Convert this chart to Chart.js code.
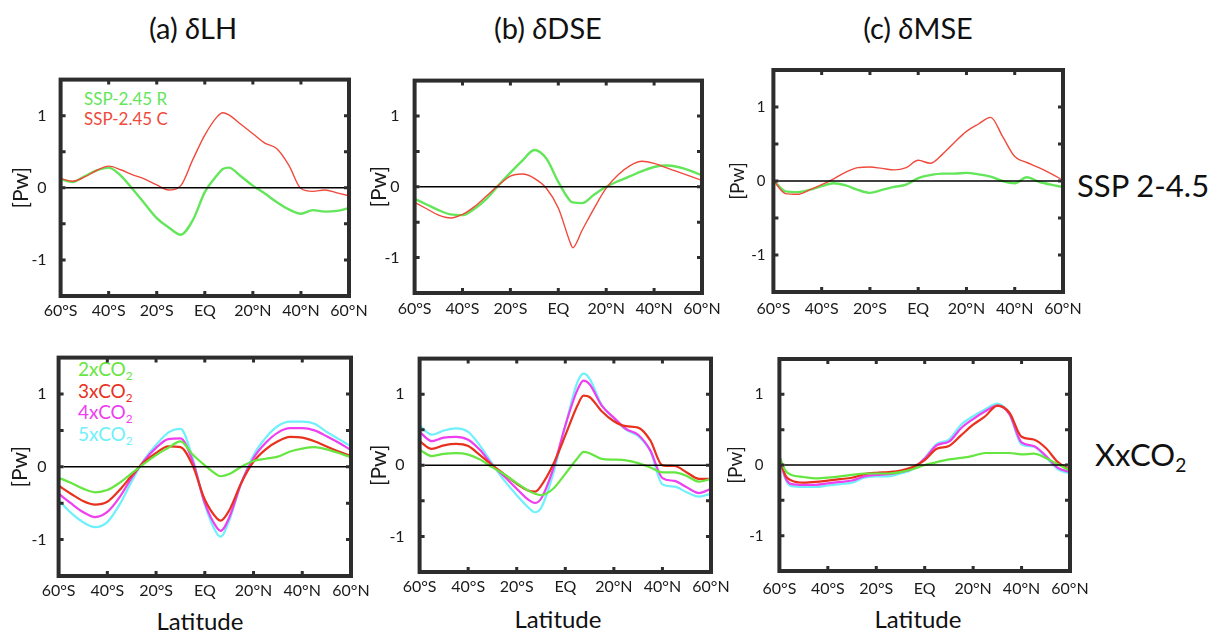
<!DOCTYPE html>
<html lang="en">
<head>
<meta charset="UTF-8" />
<title>Heat transport anomalies</title>
<script src="https://cdn.jsdelivr.net/npm/chart.js"></script>
<style>
  body { margin: 0; background: #fff; font-family: Lato, 'Open Sans', sans-serif; color: #111; }
  #wrap { position: relative; width: 1217px; height: 633px; overflow: hidden; }
  canvas { position: absolute; }
  .lbl { position: absolute; white-space: nowrap; line-height: 1; }
  .title { font-size: 29px; transform: translateX(-50%); }
  .xname { font-size: 24px; transform: translateX(-50%); }
  .row { font-size: 31px; }
  sub { font-size: 62%; vertical-align: -0.3em; line-height: 0; }
</style>
</head>
<body>
<div id="wrap">
  <div class="lbl title" style="left:193px; top:13px">(a) <i>δ</i>LH</div>
  <div class="lbl title" style="left:548px; top:13px">(b) <i>δ</i>DSE</div>
  <div class="lbl title" style="left:918px; top:13px">(c) <i>δ</i>MSE</div>

  <div class="lbl" style="left:84px; top:89px; font-size:17px; line-height:20px">
    <span style="color:#63e65a">SSP-2.45 R</span><br><span style="color:#f04a3c">SSP-2.45 C</span>
  </div>
  <div class="lbl" style="left:78px; top:358px; font-size:19px; line-height:21.7px">
    <span style="color:#66e640">2xCO<sub>2</sub></span><br>
    <span style="color:#e8321e">3xCO<sub>2</sub></span><br>
    <span style="color:#ee3ff0">4xCO<sub>2</sub></span><br>
    <span style="color:#6ff0fa">5xCO<sub>2</sub></span>
  </div>

  <div class="lbl row" style="left:1077px; top:170px">SSP 2-4.5</div>
  <div class="lbl row" style="left:1095px; top:439px">XxCO<sub>2</sub></div>

  <div class="lbl xname" style="left:200px; top:609px">Latitude</div>
  <div class="lbl xname" style="left:558px; top:607px">Latitude</div>
  <div class="lbl xname" style="left:918px; top:607px">Latitude</div>
</div>

<script>
// axis ticks
const xTickValues = [-60, -40, -20, 0, 20, 40, 60];
const xTickLabels = ['60°S', '40°S', '20°S', 'EQ', '20°N', '40°N', '60°N'];
const yTickValues = [-1, -0.5, 0, 0.5, 1];
const zeroLat = [-58, 59];
const zeroVal = [0, 0];

// (a) LH, SSP 2-4.5
const latLhSsp = [-60,-55,-50,-45,-40,-35,-30,-25,-20,-15,-10,-5,0,5,7.5,10,15,20,25,30,35,40,45,50,55,60];
const lhSspR = [0.12,0.08,0.16,0.24,0.28,0.17,-0.02,-0.22,-0.42,-0.55,-0.65,-0.45,-0.06,0.17,0.26,0.28,0.16,0.03,-0.08,-0.20,-0.30,-0.36,-0.31,-0.33,-0.32,-0.28];
const lhSspC = [0.13,0.09,0.15,0.24,0.30,0.25,0.18,0.12,0.04,-0.03,0.03,0.39,0.73,0.98,1.04,1.01,0.88,0.75,0.62,0.54,0.31,-0.01,-0.05,-0.03,-0.07,-0.11];

// (b) DSE, SSP 2-4.5
const latDseSsp = [-60,-55,-50,-45,-40,-35,-30,-25,-20,-15,-10,-5,0,5,6,10,15,20,25,30,35,40,45,50,55,60];
const dseSspR = [-0.17,-0.25,-0.33,-0.39,-0.40,-0.31,-0.17,0.02,0.20,0.37,0.52,0.40,0.07,-0.20,-0.22,-0.23,-0.11,0.0,0.08,0.15,0.22,0.28,0.30,0.28,0.23,0.16];
const dseSspC = [-0.22,-0.31,-0.40,-0.44,-0.39,-0.28,-0.13,0.02,0.15,0.18,0.12,-0.02,-0.30,-0.79,-0.86,-0.61,-0.30,-0.02,0.17,0.30,0.36,0.33,0.27,0.21,0.15,0.09];

// (c) MSE, SSP 2-4.5
const latMseSsp = [-60,-55,-50,-45,-40,-35,-30,-25,-20,-15,-10,-5,0,5,10,15,20,25,30,35,40,45,50,55,60];
const mseSspR = [0.01,-0.14,-0.15,-0.12,-0.07,-0.03,-0.06,-0.12,-0.16,-0.12,-0.08,-0.05,0.04,0.08,0.10,0.10,0.11,0.09,0.06,0.0,-0.03,0.05,-0.01,-0.05,-0.08];
const mseSspC = [0.01,-0.17,-0.18,-0.12,-0.05,0.03,0.12,0.18,0.19,0.17,0.15,0.18,0.28,0.24,0.36,0.52,0.67,0.77,0.86,0.60,0.33,0.25,0.18,0.10,0.01];

// (a) LH, XxCO2
const latLhCo2 = [-60,-55,-50,-45,-40,-35,-30,-25,-20,-15,-10,-5,0,5,6.5,10,15,20,25,30,35,40,45,50,55,60];
const lhCo2x2 = [-0.15,-0.22,-0.30,-0.35,-0.32,-0.22,-0.09,0.04,0.16,0.26,0.35,0.17,0.02,-0.11,-0.13,-0.10,0.0,0.08,0.11,0.14,0.21,0.25,0.27,0.24,0.19,0.13];
const lhCo2x3 = [-0.26,-0.37,-0.47,-0.52,-0.48,-0.32,-0.12,0.06,0.19,0.28,0.27,0.02,-0.45,-0.71,-0.74,-0.60,-0.22,0.07,0.24,0.35,0.41,0.40,0.35,0.28,0.21,0.15];
const lhCo2x4 = [-0.37,-0.50,-0.62,-0.69,-0.62,-0.42,-0.15,0.08,0.26,0.38,0.39,0.08,-0.50,-0.84,-0.88,-0.70,-0.22,0.12,0.33,0.47,0.53,0.53,0.50,0.42,0.33,0.23];
const lhCo2x5 = [-0.46,-0.63,-0.76,-0.83,-0.76,-0.52,-0.20,0.09,0.30,0.47,0.52,0.12,-0.52,-0.92,-0.96,-0.74,-0.22,0.16,0.40,0.56,0.62,0.62,0.59,0.48,0.38,0.28];

// (b) DSE, XxCO2
const latDseCo2 = [-60,-55,-50,-45,-40,-35,-30,-25,-20,-15,-12.5,-10,-5,0,5,7.5,10,15,20,25,30,35,40,45,50,55,60];
const dseCo2x2 = [0.22,0.13,0.16,0.17,0.15,0.08,-0.03,-0.13,-0.25,-0.36,-0.40,-0.42,-0.33,-0.12,0.10,0.19,0.17,0.09,0.08,0.07,0.03,-0.03,-0.10,-0.10,-0.15,-0.23,-0.19];
const dseCo2x3 = [0.34,0.23,0.28,0.30,0.27,0.14,0.0,-0.13,-0.26,-0.36,-0.37,-0.29,0.01,0.42,0.84,0.98,0.96,0.76,0.62,0.55,0.53,0.35,0.0,-0.01,-0.10,-0.19,-0.19];
const dseCo2x4 = [0.47,0.34,0.39,0.40,0.36,0.21,0.0,-0.16,-0.33,-0.49,-0.53,-0.47,-0.05,0.56,1.06,1.19,1.14,0.84,0.67,0.51,0.43,0.21,-0.18,-0.22,-0.31,-0.39,-0.33];
const dseCo2x5 = [0.56,0.43,0.49,0.52,0.47,0.27,0.02,-0.22,-0.42,-0.60,-0.66,-0.60,-0.12,0.55,1.17,1.29,1.22,0.85,0.66,0.50,0.41,0.20,-0.27,-0.30,-0.38,-0.44,-0.40];

// (c) MSE, XxCO2
const latMseCo2 = [-60,-57.5,-55,-50,-45,-40,-35,-30,-25,-20,-15,-10,-5,0,5,10,15,20,25,30,35,40,45,50,55,60];
const mseCo2x2 = [0.12,-0.08,-0.14,-0.17,-0.19,-0.18,-0.16,-0.14,-0.12,-0.12,-0.12,-0.10,-0.06,0.0,0.04,0.08,0.10,0.13,0.17,0.17,0.17,0.15,0.16,0.10,0.01,-0.08];
const mseCo2x3 = [0.12,-0.15,-0.22,-0.25,-0.24,-0.22,-0.20,-0.18,-0.13,-0.11,-0.10,-0.08,-0.03,0.07,0.23,0.27,0.42,0.57,0.69,0.84,0.74,0.40,0.36,0.24,0.04,-0.07];
const mseCo2x4 = [0.12,-0.18,-0.27,-0.28,-0.28,-0.26,-0.24,-0.22,-0.16,-0.14,-0.13,-0.10,-0.05,0.09,0.28,0.33,0.52,0.65,0.76,0.84,0.72,0.32,0.27,0.13,-0.04,-0.10];
const mseCo2x5 = [0.12,-0.20,-0.30,-0.31,-0.31,-0.29,-0.27,-0.25,-0.18,-0.16,-0.16,-0.12,-0.06,0.10,0.30,0.36,0.57,0.69,0.79,0.87,0.72,0.29,0.26,0.11,-0.06,-0.12];

const sspColors = { R: '#63e65a', C: '#f04a3c' };
const co2Colors = ['#66e640', '#e8321e', '#ee3ff0', '#6ff0fa'];

const pts = (lat, vals) => lat.map((x, i) => ({ x: x, y: vals[i] }));

// thick MATLAB-like box with inward tick marks
const framePlugin = {
  id: 'frame',
  afterDatasetsDraw(chart) {
    const { ctx, chartArea: a, scales: { x, y } } = chart;
    ctx.save();
    ctx.strokeStyle = '#2d2d2d';
    ctx.lineWidth = 3;
    ctx.beginPath();
    x.ticks.forEach(t => {
      if (t.value <= -60 || t.value >= 60) return;
      const px = x.getPixelForValue(t.value);
      ctx.moveTo(px, a.top); ctx.lineTo(px, a.top + 5);
      ctx.moveTo(px, a.bottom); ctx.lineTo(px, a.bottom - 5);
    });
    y.ticks.forEach(t => {
      const py = y.getPixelForValue(t.value);
      ctx.moveTo(a.left, py); ctx.lineTo(a.left + 5, py);
      ctx.moveTo(a.right, py); ctx.lineTo(a.right - 5, py);
    });
    ctx.stroke();
    ctx.lineWidth = 4;
    ctx.strokeRect(a.left, a.top, a.right - a.left, a.bottom - a.top);
    ctx.restore();
  }
};

function makePanel(p) {
  const [fl, ft, fr, fb] = p.frame;
  const pwSize = p.pwSize || 21;
  const L = p.pwX + pwSize * 0.6;
  const T = 10, R = 30, B = 32;
  const cv = document.createElement('canvas');
  cv.width = Math.round(L + (fr - fl) + R);
  cv.height = T + (fb - ft) + B;
  cv.style.left = (fl - L) + 'px';
  cv.style.top = (ft - T) + 'px';
  document.getElementById('wrap').appendChild(cv);

  const datasets = [{
    data: pts(zeroLat, zeroVal), borderColor: '#000', borderWidth: 1.5
  }];
  p.series.forEach(s => datasets.push({
    data: pts(p.lat, s.vals), borderColor: s.color, borderWidth: s.width,
    cubicInterpolationMode: 'monotone'
  }));

  new Chart(cv, {
    type: 'line',
    data: { datasets },
    options: {
      responsive: false,
      animation: false,
      devicePixelRatio: 1,
      layout: { padding: { top: T, right: R, left: 0, bottom: 0 } },
      elements: { point: { radius: 0 } },
      plugins: { legend: { display: false }, tooltip: { enabled: false } },
      scales: {
        x: {
          type: 'linear', min: -60, max: 60,
          afterBuildTicks: s => { s.ticks = xTickValues.map(v => ({ value: v })); },
          afterFit: s => { s.height = B; },
          grid: { display: false, drawTicks: false },
          border: { display: false },
          ticks: {
            autoSkip: false, maxRotation: 0, padding: p.xPad,
            color: '#1a1a1a', font: { family: 'Lato', size: 16 },
            callback: v => xTickLabels[xTickValues.indexOf(v)]
          }
        },
        y: {
          min: -1.5, max: 1.5,
          afterBuildTicks: s => { s.ticks = yTickValues.map(v => ({ value: v })); },
          afterFit: s => { s.width = L; },
          grid: { display: false, drawTicks: false },
          border: { display: false },
          ticks: {
            padding: p.yPad, color: '#1a1a1a',
            font: { family: 'Lato', size: p.tickSize || 16 },
            callback: v => Number.isInteger(v) ? String(v) : ''
          },
          title: {
            display: true, text: '[Pw]', color: '#1a1a1a', padding: 0,
            font: { family: 'Lato', size: pwSize, lineHeight: 1.2 }
          }
        }
      }
    },
    plugins: [framePlugin]
  });
}

const panels = [
  { frame: [61, 66, 349, 296], pwX: 39, yPad: 14, xPad: 5, lat: latLhSsp,
    series: [{ vals: lhSspC, color: sspColors.C, width: 1.4 }, { vals: lhSspR, color: sspColors.R, width: 2.4 }] },
  { frame: [415, 66, 702, 293], pwX: 35, yPad: 15, xPad: 6, lat: latDseSsp,
    series: [{ vals: dseSspC, color: sspColors.C, width: 1.4 }, { vals: dseSspR, color: sspColors.R, width: 2.4 }] },
  { frame: [773, 63, 1063, 292], pwX: 36, yPad: 8, xPad: 7, pwSize: 19, tickSize: 15, lat: latMseSsp,
    series: [{ vals: mseSspC, color: sspColors.C, width: 1.4 }, { vals: mseSspR, color: sspColors.R, width: 2.4 }] },
  { frame: [59, 346, 351, 576], pwX: 38, yPad: 12, xPad: 5, lat: latLhCo2,
    series: [lhCo2x2, lhCo2x3, lhCo2x4, lhCo2x5].map((v, i) => ({ vals: v, color: co2Colors[i], width: 2.2 })) },
  { frame: [420, 344, 711, 572], pwX: 40, yPad: 15, xPad: 5, lat: latDseCo2,
    series: [dseCo2x2, dseCo2x3, dseCo2x4, dseCo2x5].map((v, i) => ({ vals: v, color: co2Colors[i], width: 2.2 })) },
  { frame: [779, 344, 1070, 571], pwX: 44, yPad: 16, xPad: 8, pwSize: 19, tickSize: 15, lat: latMseCo2,
    series: [mseCo2x2, mseCo2x3, mseCo2x4, mseCo2x5].map((v, i) => ({ vals: v, color: co2Colors[i], width: 2.2 })) }
];

panels.forEach(makePanel);
</script>
</body>
</html>
